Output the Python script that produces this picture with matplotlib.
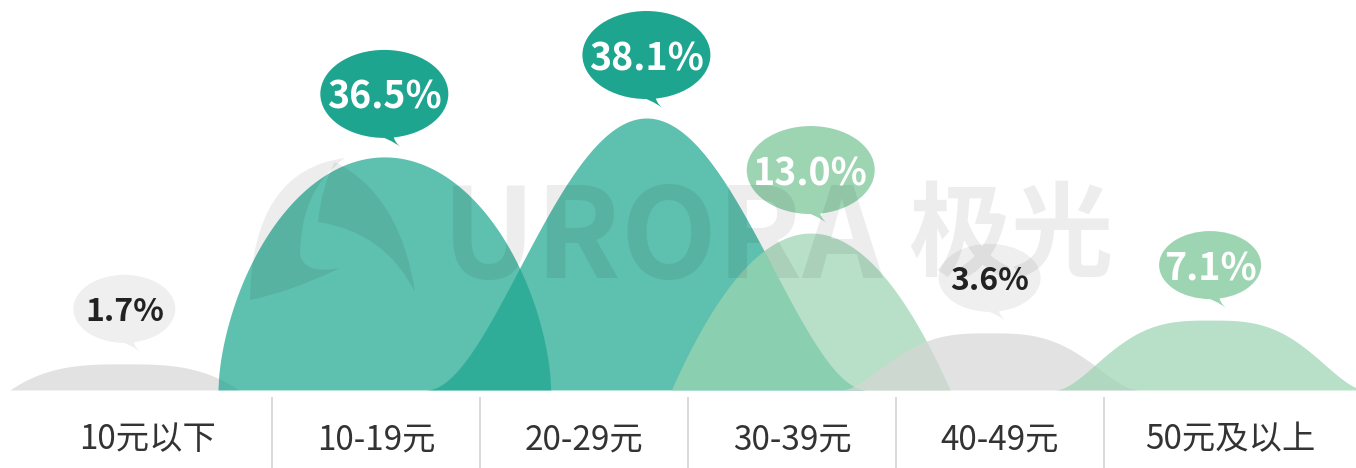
import numpy as np
import matplotlib
matplotlib.use('Agg')
import matplotlib.pyplot as plt
import matplotlib.transforms as mtransforms
from matplotlib.patches import Ellipse, PathPatch
from matplotlib.path import Path

plt.rcParams['font.family'] = ['Noto Sans CJK SC', 'DejaVu Sans']

# DATA
categories = ['10元以下', '10-19元', '20-29元', '30-39元', '40-49元', '50元及以上']
shares = [1.7, 36.5, 38.1, 13.0, 3.6, 7.1]
# hill tops (tallest hill = 100)
hill_heights = [9.6, 85.7, 100.0, 57.7, 21.0, 25.7]

# HILL LAYOUT (offset from category centre, half width, shape exponents)
hill_shift = [-0.21, 0.04, 0.30, 0.09, -0.05, 0.01]
hill_halfwidth = [0.55, 0.80, 1.06, 0.67, 0.72, 0.75]
hill_shape = [(3, 1), (2, 0.6), (2, 2), (2, 1), (3, 2), (3, 2)]
hill_kind = ['grey', 'teal', 'teal', 'mint', 'grey', 'mint']

# COLOURS
bubble_color = {'teal': '#1ea590', 'mint': '#9dd5b3', 'grey': '#efefef'}
hill_color = {'teal': '#1ca68f', 'mint': '#9dd5b3', 'grey': '#d6d6d6'}
hill_alpha = {'teal': 0.71, 'mint': 0.72, 'grey': 0.7}

fig = plt.figure(figsize=(13.56, 4.68), dpi=100)
ax = fig.add_axes([0, 0, 1, 1])
ax.set_xlim(-0.8077, 5.7115)
ax.set_ylim(-28.7, 143.4)
ax.axis('off')

# HILLS
t = np.linspace(-1, 1, 400)
peaks = []
for i, h in enumerate(hill_heights):
    p, q = hill_shape[i]
    cx = i + hill_shift[i]
    xs = cx + t * hill_halfwidth[i]
    ys = h * (1 - np.abs(t) ** p) ** q
    kind = hill_kind[i]
    ax.fill_between(xs, 0, ys, color=hill_color[kind], alpha=hill_alpha[kind],
                    lw=0, zorder=2)
    peaks.append((cx, h))

# WATERMARK (axes fraction coords)
def fr(px, py):
    return (px / 1356, 1 - py / 468)

wm = dict(color='black', alpha=0.07, zorder=5)
ax.text(*fr(442, 278), 'URORA', transform=ax.transAxes, fontsize=90,
        fontweight='bold', ha='left', va='baseline', **wm)
ax.text(*fr(908, 268), '极光', transform=ax.transAxes, fontsize=74,
        fontweight='bold', ha='left', va='baseline', **wm)

# logo swoosh
verts = [fr(250, 300), fr(252, 170), fr(345, 158), fr(300, 190), fr(300, 255),
         fr(305, 275), fr(340, 268), fr(290, 292), fr(250, 300)]
codes = [Path.MOVETO, Path.CURVE3, Path.CURVE3, Path.CURVE3, Path.CURVE3,
         Path.CURVE3, Path.CURVE3, Path.CURVE3, Path.CURVE3]
ax.add_patch(PathPatch(Path(verts, codes), transform=ax.transAxes, lw=0, **wm))
verts = [fr(335, 162), fr(400, 195), fr(415, 292), fr(385, 232), fr(318, 222),
         fr(322, 185), fr(335, 162)]
codes = [Path.MOVETO, Path.CURVE3, Path.CURVE3, Path.CURVE3, Path.CURVE3,
         Path.CURVE3, Path.CURVE3]
ax.add_patch(PathPatch(Path(verts, codes), transform=ax.transAxes, lw=0, **wm))

# BUBBLES (sizes in inches, anchored on each hill top)
for i, (cx, h) in enumerate(peaks):
    kind = hill_kind[i]
    trans = fig.dpi_scale_trans + mtransforms.ScaledTranslation(cx, h, ax.transData)
    if shares[i] >= 10:
        bw, bh, gap = 1.28, 0.88, 0.19
    else:
        bw, bh, gap = 1.02, 0.68, 0.21
    cy = gap + bh / 2
    ax.add_patch(Ellipse((0, cy), bw, bh, transform=trans,
                         color=bubble_color[kind], lw=0, zorder=4))
    tail = Path([(-0.12, gap + 0.04), (0.06, gap - 0.01), (0.16, gap - 0.09),
                 (0.09, gap - 0.03), (0.09, gap + 0.04), (-0.12, gap + 0.04)],
                [Path.MOVETO, Path.CURVE3, Path.CURVE3, Path.CURVE3, Path.CURVE3,
                 Path.CLOSEPOLY])
    ax.add_patch(PathPatch(tail, transform=trans, color=bubble_color[kind],
                           lw=0, zorder=4))
    if kind == 'grey':
        tc, fs = '#222222', 23
    else:
        tc, fs = 'white', 27
    ax.text(0, cy - 0.035, f'{shares[i]:.1f}%', transform=trans, ha='center',
            va='center', fontsize=fs, fontweight='bold', color=tc, zorder=6)

# CATEGORY CELLS
ax.vlines(np.arange(len(categories) - 1) + 0.5, -28.7, -2.6,
          color='#d4d4d4', lw=1.2)
bounds = [-0.7] + list(np.arange(len(categories) - 1) + 0.5) + [5.7115]
for i, name in enumerate(categories):
    ax.text((bounds[i] + bounds[i + 1]) / 2, -18.4, name, ha='center',
            va='center', fontsize=24, color='#333333')

fig.savefig('out.png', dpi=100)
